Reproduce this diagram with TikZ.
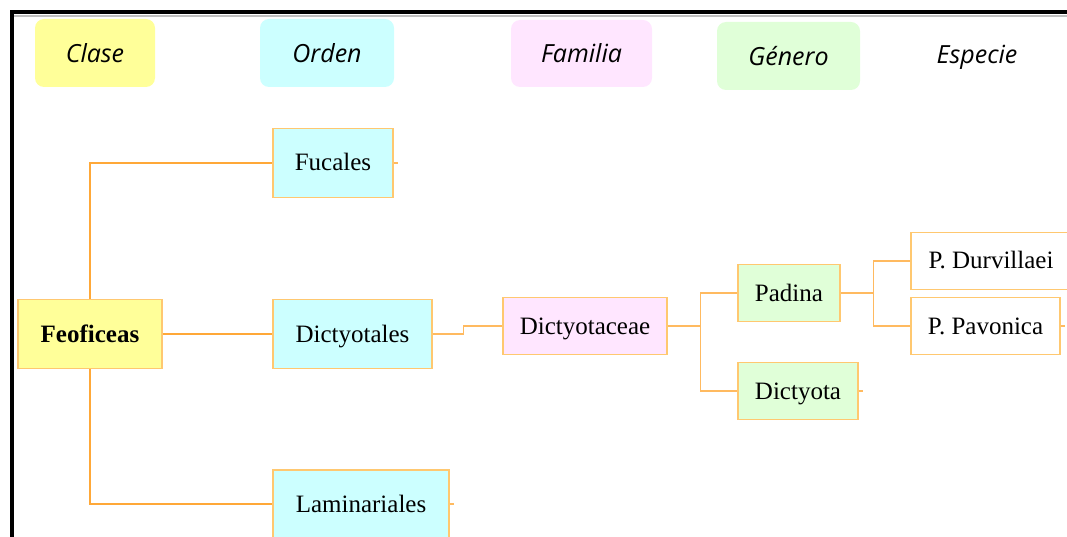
\documentclass[tikz,border=0pt]{standalone}
\usepackage{fontspec}
\setmainfont{Liberation Serif}
\newfontfamily\headfont{Open Sans}
\usetikzlibrary{positioning}

\definecolor{clasefill}{HTML}{FFFF99}
\definecolor{ordenfill}{HTML}{CCFFFF}
\definecolor{famfill}{HTML}{FFE6FF}
\definecolor{genfill}{HTML}{E0FFD8}
\definecolor{boxline}{HTML}{FFC870}
\definecolor{linkline}{HTML}{FFA838}
\definecolor{thinline}{HTML}{FFBA60}

\begin{document}
\begin{tikzpicture}[
  x=1pt, y=-1pt,
  head/.style={rounded corners=9pt, inner sep=0pt,
    font=\headfont\itshape\fontsize{25}{30}\selectfont},
  taxon/.style={rectangle, draw=boxline, line width=1.2pt, inner sep=0pt,
    minimum height=57pt, text height=20pt, text depth=4pt,
    font=\fontsize{25}{30}\selectfont},
  link/.style={draw=linkline, line width=2pt},
  sublink/.style={draw=thinline, line width=1.3pt},
  stub/.style={draw=thinline, line width=1.3pt}
]
  \useasboundingbox (0,0) rectangle (1067,537);

  % frame
  \draw[black!25, line width=2pt] (14,16.5) -- (1067,16.5);
  \draw[line width=4pt] (11.5,537) -- (11.5,12) -- (1067,12);

  % column headers
  \node[head, fill=clasefill, minimum width=120pt, minimum height=68pt] (clase) at (95,53) {Clase};
  \node[head, fill=ordenfill, minimum width=134pt, minimum height=68pt] (orden) at (327,53) {Orden};
  \node[head, fill=famfill, minimum width=141pt, minimum height=67pt] (familia) at (581.5,53.5) {Familia};
  \node[head, fill=genfill, minimum width=143pt, minimum height=68pt] (genero) at (788.5,56) {Género};
  \node[head] (especie) at (977,57) {Especie};

  % taxa
  \node[taxon, fill=clasefill, minimum width=144pt, minimum height=69pt, font=\bfseries\fontsize{25}{30}\selectfont] (feo) at (90,334) {Feoficeas};
  \node[taxon, fill=ordenfill, minimum width=120pt, minimum height=69pt] (fuc) at (333,163) {Fucales};
  \node[taxon, fill=ordenfill, minimum width=159pt, minimum height=69pt] (dic) at (352.5,334) {Dictyotales};
  \node[taxon, fill=ordenfill, minimum width=176pt, minimum height=68pt] (lam) at (361,504) {Laminariales};
  \node[taxon, fill=famfill, minimum width=164pt] (fam) at (585,326) {Dictyotaceae};
  \node[taxon, fill=genfill, minimum width=102pt] (pad) at (789,293) {Padina};
  \node[taxon, fill=genfill, minimum width=120pt] (dyo) at (798,391) {Dictyota};
  \node[taxon, fill=white, minimum width=160pt] (pdu) at (991,261) {P. Durvillaei};
  \node[taxon, fill=white, minimum width=149pt] (ppa) at (985.5,326) {P. Pavonica};

  % links
  \draw[link] (feo.north) |- (fuc.west);
  \draw[link] (feo.south) |- (lam.west);
  \draw[link] (feo.east) -- (dic.west);
  \draw[sublink] (dic.east) -- ++(31,0) |- (fam.west);
  \draw[sublink] (fam.east) -- ++(33,0) coordinate (j1);
  \draw[sublink] (j1) |- (pad.west);
  \draw[sublink] (j1) |- (dyo.west);
  \draw[sublink] (pad.east) -- ++(33,0) coordinate (j2);
  \draw[sublink] (j2) |- (pdu.west);
  \draw[sublink] (j2) |- (ppa.west);

  % loose ends
  \draw[stub] (fuc.east) -- ++(4,0);
  \draw[stub] (lam.east) -- ++(4,0);
  \draw[stub] (dyo.east) -- ++(4,0);
  \draw[stub] (ppa.east) -- ++(4,0);
\end{tikzpicture}
\end{document}
